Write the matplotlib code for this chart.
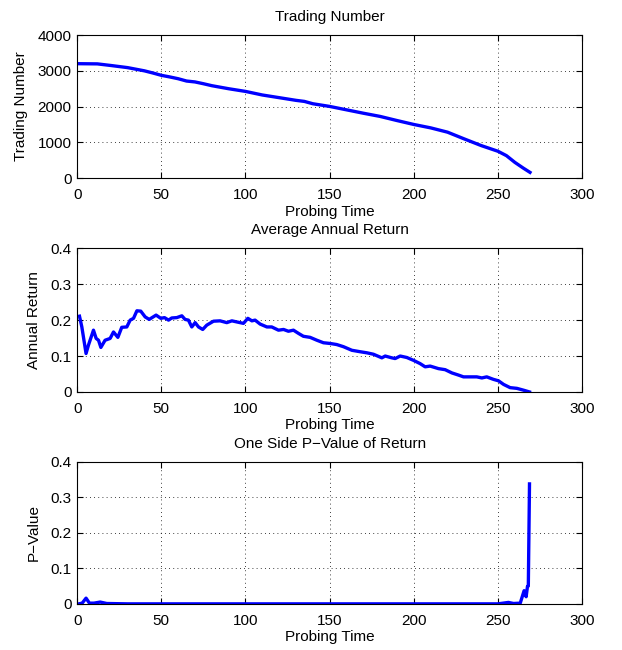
import matplotlib.pyplot as plt

plt.rcParams['font.family'] = ['Liberation Sans', 'DejaVu Sans']
plt.rcParams['font.size'] = 11

# trading number vs probing time
trade_t = [1, 12, 20, 30, 40, 45, 50, 55, 60, 65, 70, 75, 80, 90, 100, 110, 120,
           130, 135, 140, 150, 160, 170, 180, 190, 200, 210, 220, 225, 230, 240,
           250, 255, 260, 265, 269]
trade_n = [3200, 3195, 3150, 3090, 3000, 2940, 2875, 2830, 2780, 2715, 2690, 2640,
           2585, 2500, 2425, 2325, 2250, 2175, 2145, 2080, 2005, 1910, 1815, 1725,
           1610, 1500, 1405, 1285, 1190, 1095, 910, 750, 628, 440, 280, 160]

# average annual return
ret_t = [1.4, 2.8, 5.3, 6.7, 9.7, 11.3, 12.7, 14.1, 16.6, 19.6, 21.6, 24.2, 26.5,
         29.5, 31.5, 33.5, 35.5, 37.8, 40.4, 42.8, 46.9, 49.7, 51.9, 54.3, 56.2,
         59.2, 62.2, 64.1, 66.1, 68.1, 70.1, 72.1, 74.6, 77.0, 81.0, 84.9, 88.9,
         91.9, 95.8, 98.8, 101.4, 103.8, 105.7, 108.7, 112.7, 115.6, 119.6, 122.6,
         125.5, 128.5, 131.5, 134.4, 138.4, 142.4, 146.3, 150.3, 154.2, 158.2,
         163.2, 168.1, 172.1, 176.0, 181.0, 183.0, 186.9, 188.9, 191.9, 195.8,
         199.8, 203.7, 206.7, 209.7, 214.6, 218.6, 222.6, 226.5, 229.5, 233.4,
         237.4, 240.4, 243.3, 247.3, 250.3, 253.3, 257.2, 261.2, 265.1, 268.7]
ret_v = [0.211, 0.181, 0.107, 0.130, 0.172, 0.149, 0.144, 0.124, 0.144, 0.149,
         0.167, 0.152, 0.180, 0.181, 0.200, 0.205, 0.226, 0.225, 0.209, 0.202,
         0.214, 0.205, 0.207, 0.200, 0.206, 0.207, 0.212, 0.202, 0.200, 0.181,
         0.193, 0.181, 0.174, 0.186, 0.197, 0.198, 0.193, 0.198, 0.194, 0.191,
         0.205, 0.198, 0.200, 0.189, 0.181, 0.181, 0.172, 0.174, 0.169, 0.172,
         0.163, 0.155, 0.152, 0.144, 0.137, 0.135, 0.132, 0.126, 0.116, 0.112,
         0.109, 0.105, 0.095, 0.100, 0.095, 0.093, 0.100, 0.096, 0.088, 0.079,
         0.070, 0.072, 0.065, 0.062, 0.053, 0.047, 0.042, 0.042, 0.042, 0.039,
         0.042, 0.035, 0.031, 0.021, 0.012, 0.010, 0.005, 0.0]

# one side p-value
p_t = [1, 3, 5.3, 7.3, 10, 13.7, 17.6, 30, 100, 200, 250, 256.2, 259.2, 263.2,
       265.5, 266.7, 267.5, 268.0, 268.7]
p_v = [0.0, 0.002, 0.016, 0.002, 0.002, 0.005, 0.001, 0.0, 0.0, 0.0, 0.0, 0.004,
       0.001, 0.002, 0.037, 0.020, 0.049, 0.05, 0.337]

fig = plt.figure(figsize=(6.22, 6.5), dpi=100)

panels = [
    ([0.124, 0.726, 0.812, 0.220], trade_t, trade_n, (0, 4000), [0, 1000, 2000, 3000, 4000],
     'Trading Number', 'Trading Number'),
    ([0.124, 0.397, 0.812, 0.221], ret_t, ret_v, (0, 0.4), [0, 0.1, 0.2, 0.3, 0.4],
     'Average Annual Return', 'Annual Return'),
    ([0.124, 0.071, 0.812, 0.219], p_t, p_v, (0, 0.4), [0, 0.1, 0.2, 0.3, 0.4],
     'One Side P\u2212Value of Return', 'P\u2212Value'),
]

for rect, xs, ys, ylim, yticks, title, ylab in panels:
    ax = fig.add_axes(rect)
    ax.plot(xs, ys, color=(0, 0, 1), lw=2.4)
    ax.set_xlim(0, 300)
    ax.set_ylim(*ylim)
    ax.set_xticks([0, 50, 100, 150, 200, 250, 300])
    ax.set_yticks(yticks)
    ax.set_yticklabels([('%g' % v) for v in yticks])
    ax.grid(True, linestyle=(0, (1, 4)), color='black', lw=0.6)
    ax.tick_params(direction='in', top=True, right=True, length=4, labelsize=11)
    ax.tick_params(axis='x', pad=7)
    ax.tick_params(axis='y', pad=4)
    ax.set_title(title, fontsize=11, pad=10)
    ax.set_ylabel(ylab, fontsize=11, labelpad=7)
    ax.set_xlabel('Probing Time', fontsize=11, labelpad=2)
    for s in ax.spines.values():
        s.set_linewidth(0.8)

fig.savefig('out.png', dpi=100)
